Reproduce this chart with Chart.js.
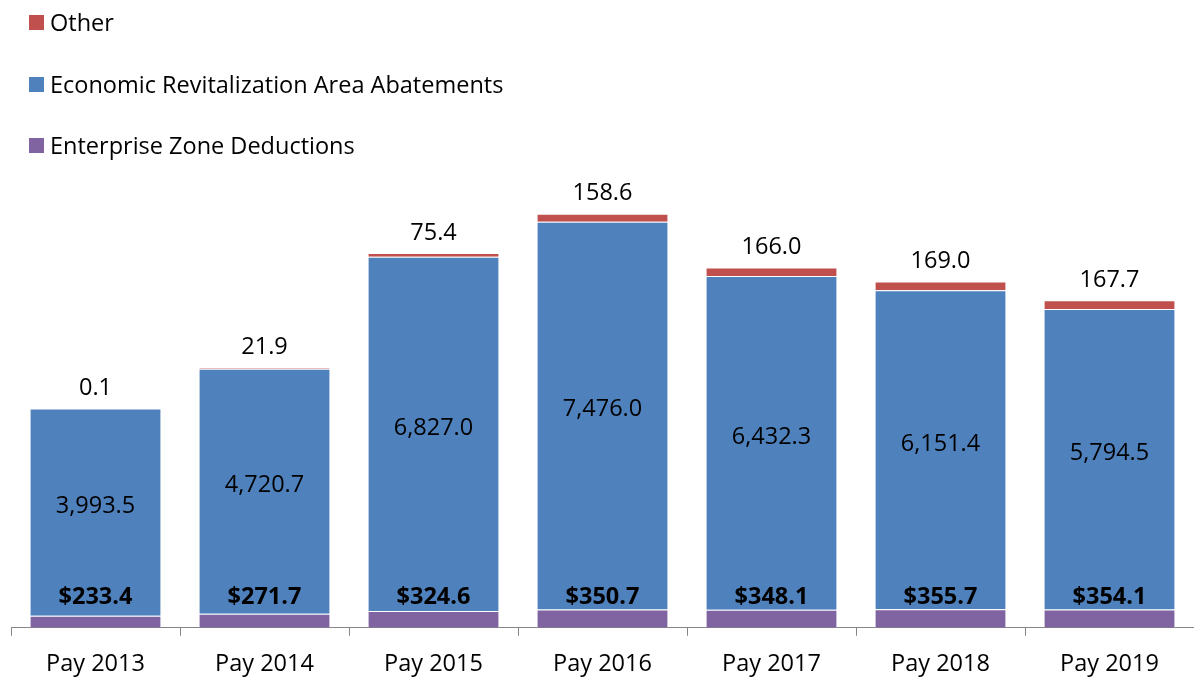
<!DOCTYPE html>
<html>
<head>
<meta charset="utf-8">
<script src="https://cdn.jsdelivr.net/npm/chart.js@4/dist/chart.umd.min.js"></script>
<style>
  html, body { margin: 0; padding: 0; background: #fff; overflow: hidden; }
  #wrap { position: relative; width: 1194px; height: 677px; overflow: hidden; }
  #legend { position: absolute; left: 29px; top: 0; font-family: "Open Sans", "Noto Sans", sans-serif; font-size: 23.5px; color: #000; }
  #legend .item { position: absolute; left: 0; white-space: nowrap; display: flex; align-items: center; height: 30px; }
  #legend .box { width: 15px; height: 15px; margin-right: 6px; }
</style>
</head>
<body>
<div id="wrap">
  <canvas id="chart" width="1194" height="692"></canvas>
  <div id="legend"></div>
</div>
<script>
  // Categories and series (values in $ millions as labelled in the picture)
  const years = ['Pay 2013', 'Pay 2014', 'Pay 2015', 'Pay 2016', 'Pay 2017', 'Pay 2018', 'Pay 2019'];
  const enterpriseZone = [233.4, 271.7, 324.6, 350.7, 348.1, 355.7, 354.1];
  const eraAbatements = [3993.5, 4720.7, 6827.0, 7476.0, 6432.3, 6151.4, 5794.5];
  const other = [0.1, 21.9, 75.4, 158.6, 166.0, 169.0, 167.7];

  const fontFamily = '"Open Sans", "Noto Sans", sans-serif';
  const fmt = v => v.toLocaleString('en-US', { minimumFractionDigits: 1, maximumFractionDigits: 1 });

  // draws the value labels on/above the bars
  const valueLabels = {
    id: 'valueLabels',
    afterDatasetsDraw(chart) {
      const ctx = chart.ctx;
      ctx.save();
      ctx.fillStyle = '#000';
      ctx.textAlign = 'center';
      ctx.textBaseline = 'middle';
      chart.data.datasets.forEach((ds, i) => {
        const meta = chart.getDatasetMeta(i);
        meta.data.forEach((bar, j) => {
          const v = ds.data[j];
          if (ds.labelPos === 'inside-bottom') {
            ctx.font = 'bold 23.5px ' + fontFamily;
            ctx.fillText('$' + fmt(v), bar.x, bar.base - 30);
          } else if (ds.labelPos === 'center') {
            ctx.font = '23.5px ' + fontFamily;
            ctx.fillText(fmt(v), bar.x, (bar.y + bar.base) / 2 - 6);
          } else {
            ctx.font = '23.5px ' + fontFamily;
            ctx.fillText(fmt(v), bar.x, bar.y - 20);
          }
        });
      });
      ctx.restore();
    }
  };

  const chart = new Chart(document.getElementById('chart'), {
    type: 'bar',
    data: {
      labels: years,
      datasets: [
        { label: 'Enterprise Zone Deductions', data: enterpriseZone, backgroundColor: '#8064A2', labelPos: 'inside-bottom' },
        { label: 'Economic Revitalization Area Abatements', data: eraAbatements, backgroundColor: '#4F81BD', labelPos: 'center' },
        { label: 'Other', data: other, backgroundColor: '#C0504D', labelPos: 'top' }
      ]
    },
    options: {
      responsive: false,
      animation: false,
      layout: { padding: { top: 161, left: 11, right: 0, bottom: 0 } },
      datasets: {
        bar: {
          categoryPercentage: 1,
          barPercentage: 0.78,
          borderWidth: 1,
          borderColor: 'rgba(255,255,255,0.45)'
        }
      },
      plugins: {
        legend: { display: false },
        tooltip: { enabled: false }
      },
      scales: {
        x: {
          stacked: true,
          border: { display: true, color: '#868686', width: 1 },
          grid: { drawOnChartArea: false, drawTicks: true, tickLength: 8, color: '#868686', offset: true },
          ticks: { color: '#000', padding: 14, font: { family: fontFamily, size: 23.5 } }
        },
        y: {
          stacked: true,
          display: false,
          min: 0,
          max: 9000
        }
      }
    },
    plugins: [valueLabels]
  });

  // legend, listed top-down in reverse stacking order
  const legendEl = document.getElementById('legend');
  const rowY = [7, 69, 130];
  chart.data.datasets.slice().reverse().forEach((ds, k) => {
    const item = document.createElement('div');
    item.className = 'item';
    item.style.top = rowY[k] + 'px';
    const box = document.createElement('span');
    box.className = 'box';
    box.style.background = ds.backgroundColor;
    const txt = document.createElement('span');
    txt.textContent = ds.label;
    item.appendChild(box);
    item.appendChild(txt);
    legendEl.appendChild(item);
  });
</script>
</body>
</html>
